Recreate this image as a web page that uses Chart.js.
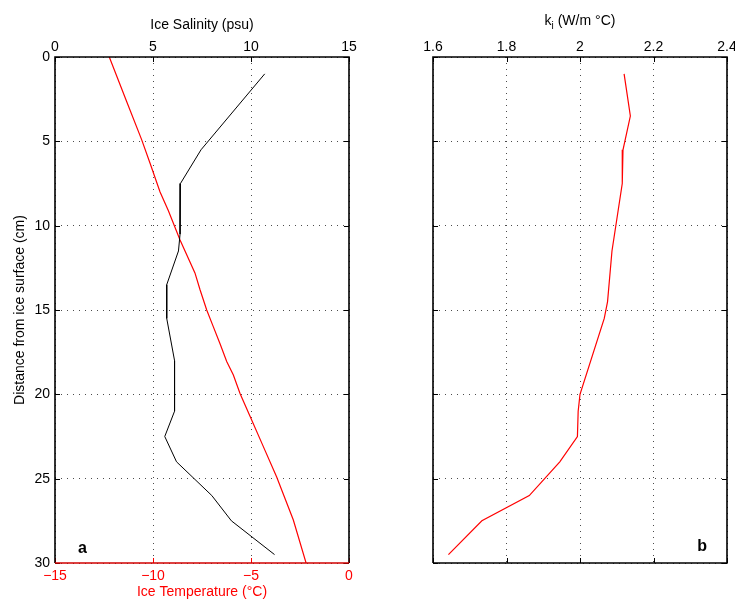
<!DOCTYPE html>
<html>
<head>
<meta charset="utf-8">
<script src="https://cdn.jsdelivr.net/npm/chart.js@4.4.1/dist/chart.umd.min.js"></script>
<style>
  html, body { margin: 0; padding: 0; background: #fff; overflow: hidden; }
  #chartA { position: absolute; left: 0; top: 0; }
  #chartB { position: absolute; left: 380px; top: 0; }
</style>
</head>
<body>
<canvas id="chartA" width="380" height="601"></canvas>
<canvas id="chartB" width="375" height="601"></canvas>
<script>
// Panel a: salinity profile (black) and temperature profile (red)
const salDepth = [1.0, 5.5, 7.5, 10.5, 11.5, 13.5, 15.5, 18.0, 21.0, 22.5, 24.0, 26.0, 27.5, 29.5];
const salinity = [10.7, 7.45, 6.4, 6.38, 6.3, 5.7, 5.7, 6.1, 6.1, 5.6, 6.2, 8.0, 9.0, 11.2];

const tempDepth = [0, 2.65, 4.9, 6.3, 8.0, 9.1, 10.85, 12.8, 13.8, 15.0, 16.0, 17.0, 18.05, 18.85, 19.95, 21.3, 23.1, 24.9, 27.45, 30];
const temperature = [-12.23, -11.34, -10.58, -10.15, -9.64, -9.22, -8.62, -7.86, -7.6, -7.26, -6.92, -6.58, -6.24, -5.9, -5.56, -5.05, -4.37, -3.69, -2.84, -2.19];

// Panel b: thermal conductivity of ice
const kDepth = [1.0, 3.5, 5.5, 7.5, 11.5, 14.5, 15.5, 20.0, 21.0, 22.5, 24.0, 26.0, 27.5, 29.5];
const kIce = [2.12, 2.137, 2.117, 2.115, 2.087, 2.075, 2.066, 2.0, 1.995, 1.993, 1.945, 1.862, 1.733, 1.642];

// tick labels
const depthTicks = [0, 5, 10, 15, 20, 25, 30];
const salTicks = [0, 5, 10, 15];
const tempTicks = [-15, -10, -5, 0];
const kTicks = [1.6, 1.8, 2, 2.2, 2.4];

const FONT = '"Liberation Sans", Arial, Helvetica, sans-serif';
Chart.defaults.font.family = FONT;
Chart.defaults.font.size = 14;
Chart.defaults.color = '#000';

const gridOpts = { color: 'rgba(0,0,0,0.7)', lineWidth: 1, drawTicks: false };
const dotted = { display: false, dash: [1, 5] };

const setTicks = (arr) => (scale) => { scale.ticks = arr.map(v => ({ value: v })); };
const minus = (v) => (v < 0 ? '\u2212' + Math.abs(v) : String(v));

// frame + inward tick marks, MATLAB style
const frame = {
  id: 'frame',
  afterDatasetsDraw(chart, args, opts) {
    const { ctx, chartArea: a, scales } = chart;
    const tl = 5;
    ctx.save();
    ctx.lineWidth = 1;
    ctx.strokeStyle = '#000';
    ctx.beginPath();
    scales.y.ticks.forEach(t => {
      const p = Math.round(scales.y.getPixelForValue(t.value)) + 0.5;
      ctx.moveTo(a.left, p); ctx.lineTo(a.left + tl, p);
      ctx.moveTo(a.right, p); ctx.lineTo(a.right - tl, p);
    });
    scales.x.ticks.forEach(t => {
      const p = Math.round(scales.x.getPixelForValue(t.value)) + 0.5;
      ctx.moveTo(p, a.top); ctx.lineTo(p, a.top + tl);
      if (!scales.x2) { ctx.moveTo(p, a.bottom); ctx.lineTo(p, a.bottom - tl); }
    });
    ctx.stroke();
    if (scales.x2) {
      ctx.strokeStyle = '#ff0000';
      ctx.beginPath();
      scales.x2.ticks.forEach(t => {
        const p = Math.round(scales.x2.getPixelForValue(t.value)) + 0.5;
        ctx.moveTo(p, a.bottom); ctx.lineTo(p, a.bottom - tl);
      });
      ctx.stroke();
    }
    ctx.lineWidth = 1.6;
    ctx.strokeStyle = '#000';
    ctx.beginPath();
    ctx.moveTo(a.left, a.bottom); ctx.lineTo(a.left, a.top);
    ctx.lineTo(a.right, a.top); ctx.lineTo(a.right, a.bottom);
    if (!scales.x2) ctx.lineTo(a.left, a.bottom);
    ctx.stroke();
    if (scales.x2) {
      ctx.strokeStyle = '#d00000';
      ctx.beginPath();
      ctx.moveTo(a.left, a.bottom); ctx.lineTo(a.right, a.bottom);
      ctx.stroke();
    }
    // panel letter
    ctx.fillStyle = '#000';
    ctx.font = 'bold 16px ' + FONT;
    ctx.textBaseline = 'alphabetic';
    if (opts.letter === 'a') {
      ctx.textAlign = 'left';
      ctx.fillText('a', a.left + 23, a.bottom - 10);
    } else {
      ctx.textAlign = 'right';
      ctx.fillText('b', a.right - 20, a.bottom - 12);
    }
    ctx.restore();
  }
};

// title with subscript for panel b
const kTitle = {
  id: 'kTitle',
  afterDraw(chart) {
    const { ctx, chartArea: a } = chart;
    const cx = (a.left + a.right) / 2;
    ctx.save();
    ctx.fillStyle = '#000';
    ctx.textBaseline = 'alphabetic';
    ctx.textAlign = 'left';
    ctx.font = '14px ' + FONT;
    const w1 = ctx.measureText('k').width;
    const w3 = ctx.measureText(' (W/m \u00B0C)').width;
    ctx.font = '10px ' + FONT;
    const w2 = ctx.measureText('i').width;
    let x = cx - (w1 + w2 + w3) / 2;
    ctx.font = '14px ' + FONT;
    ctx.fillText('k', x, 25); x += w1;
    ctx.font = '10px ' + FONT;
    ctx.fillText('i', x, 29); x += w2;
    ctx.font = '14px ' + FONT;
    ctx.fillText(' (W/m \u00B0C)', x, 25);
    ctx.restore();
  }
};

const toPts = (xs, ys) => xs.map((v, i) => ({ x: v, y: ys[i] }));

new Chart(document.getElementById('chartA'), {
  type: 'scatter',
  data: {
    datasets: [
      {
        label: 'Ice Salinity',
        data: toPts(salinity, salDepth),
        xAxisID: 'x',
        showLine: true,
        borderColor: '#000',
        borderWidth: 1,
        pointRadius: 0,
        tension: 0
      },
      {
        label: 'Ice Temperature',
        data: toPts(temperature, tempDepth),
        xAxisID: 'x2',
        showLine: true,
        borderColor: '#ff0000',
        borderWidth: 1.2,
        pointRadius: 0,
        tension: 0
      }
    ]
  },
  options: {
    responsive: false,
    animation: false,
    layout: { padding: { left: 0, right: 31, top: 0, bottom: 0 } },
    plugins: { legend: { display: false }, tooltip: { enabled: false }, frame: { letter: 'a' } },
    scales: {
      x: {
        type: 'linear',
        position: 'top',
        min: 0, max: 15,
        afterBuildTicks: setTicks(salTicks),
        afterFit: (s) => { s.height = 57; },
        ticks: { padding: 1, maxRotation: 0 },
        grid: gridOpts,
        border: dotted,
        title: { display: true, text: 'Ice Salinity (psu)', font: { size: 14 }, padding: { top: 17, bottom: 0 } }
      },
      x2: {
        type: 'linear',
        position: 'bottom',
        min: -15, max: 0,
        afterBuildTicks: setTicks(tempTicks),
        afterFit: (s) => { s.height = 38; },
        ticks: { padding: 5, color: '#ff0000', maxRotation: 0, callback: minus },
        grid: { display: false, drawTicks: false },
        border: { display: false },
        title: { display: true, text: 'Ice Temperature (\u00B0C)', color: '#ff0000', font: { size: 14 }, padding: { top: 0, bottom: 0 } }
      },
      y: {
        type: 'linear',
        reverse: true,
        min: 0, max: 30,
        afterBuildTicks: setTicks(depthTicks),
        afterFit: (s) => { s.width = 55; },
        ticks: { padding: 5 },
        grid: gridOpts,
        border: dotted,
        title: { display: true, text: 'Distance from ice surface (cm)', font: { size: 14 }, padding: { top: 12, bottom: 0 } }
      }
    }
  },
  plugins: [frame]
});

new Chart(document.getElementById('chartB'), {
  type: 'scatter',
  data: {
    datasets: [
      {
        label: 'k_i',
        data: toPts(kIce, kDepth),
        showLine: true,
        borderColor: '#ff0000',
        borderWidth: 1.2,
        pointRadius: 0,
        tension: 0
      }
    ]
  },
  options: {
    responsive: false,
    animation: false,
    layout: { padding: { left: 0, right: 28, top: 0, bottom: 38 } },
    plugins: { legend: { display: false }, tooltip: { enabled: false }, frame: { letter: 'b' } },
    scales: {
      x: {
        type: 'linear',
        position: 'top',
        min: 1.6, max: 2.4,
        afterBuildTicks: setTicks(kTicks),
        afterFit: (s) => { s.height = 57; },
        ticks: { padding: 1, maxRotation: 0, callback: (v) => String(v) },
        grid: gridOpts,
        border: dotted
      },
      y: {
        type: 'linear',
        reverse: true,
        min: 0, max: 30,
        afterBuildTicks: setTicks(depthTicks),
        afterFit: (s) => { s.width = 53; },
        ticks: { display: false },
        grid: gridOpts,
        border: dotted
      }
    }
  },
  plugins: [frame, kTitle]
});
</script>
</body>
</html>
